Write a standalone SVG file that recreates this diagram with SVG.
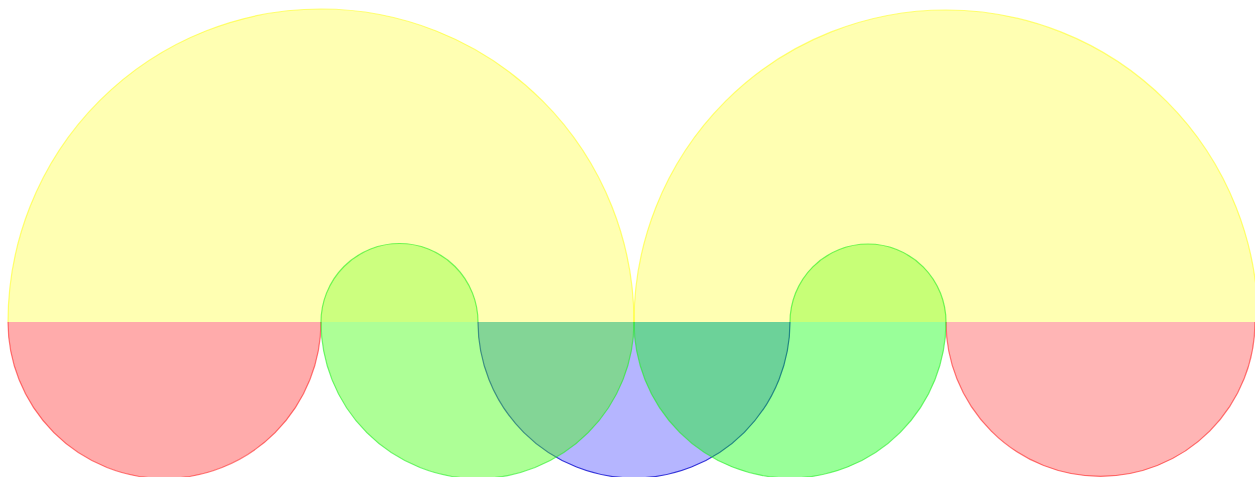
<svg xmlns="http://www.w3.org/2000/svg" width="1255" height="477" viewBox="0 0 1255 477">
<style>
.yel{fill:#ffff00;fill-opacity:0.3;stroke:#ffff00;stroke-opacity:0.5;stroke-width:1.2}
.red{fill:#ff0000;stroke:#ff0000;stroke-opacity:0.5;stroke-width:1.2}
.blu{fill:#0000ff;fill-opacity:0.29;stroke:#0000cc;stroke-opacity:0.75;stroke-width:1.2}
.capL{fill:#55ff0b;fill-opacity:0.3;stroke:none}
.lowL{fill:#44ff10;fill-opacity:0.44;stroke:none}
.capR{fill:#56ff00;fill-opacity:0.33;stroke:none}
.lowR{fill:#00ff00;fill-opacity:0.4;stroke:none}
.edge{fill:none;stroke:#22ee22;stroke-opacity:0.6;stroke-width:1.2}
</style>
<rect width="1255" height="477" fill="#ffffff"/>
<g id="yellow-left"><path class="yel" d="M8,322 A313,313 0 0 1 634,322"/></g>
<g id="yellow-right"><path class="yel" d="M634,322 A312,312 0 0 1 1258,322"/></g>
<g id="red-left"><path class="red" fill-opacity="0.33" d="M321,322 A156.5,156.5 0 0 1 8,322"/></g>
<g id="red-right"><path class="red" fill-opacity="0.29" d="M1255,322 A154.5,154.5 0 0 1 946,322"/></g>
<g id="blue"><path class="blu" d="M790,322 A156,156 0 0 1 478,322"/></g>
<g id="green-left">
<path class="capL" d="M321,322 A78.5,78.5 0 0 1 478,322 Z"/>
<path class="lowL" d="M634,322 A156.5,156.5 0 0 1 321,322 Z"/>
<path class="edge" d="M478,322 A78.5,78.5 0 0 0 321,322 A156.5,156.5 0 0 0 634,322"/>
</g>
<g id="green-right">
<path class="capR" d="M790,322 A78,78 0 0 1 946,322 Z"/>
<path class="lowR" d="M946,322 A156,156 0 0 1 634,322 Z"/>
<path class="edge" d="M790,322 A78,78 0 0 1 946,322 A156,156 0 0 1 634,322"/>
</g>
<g id="connectors"></g>
</svg>
